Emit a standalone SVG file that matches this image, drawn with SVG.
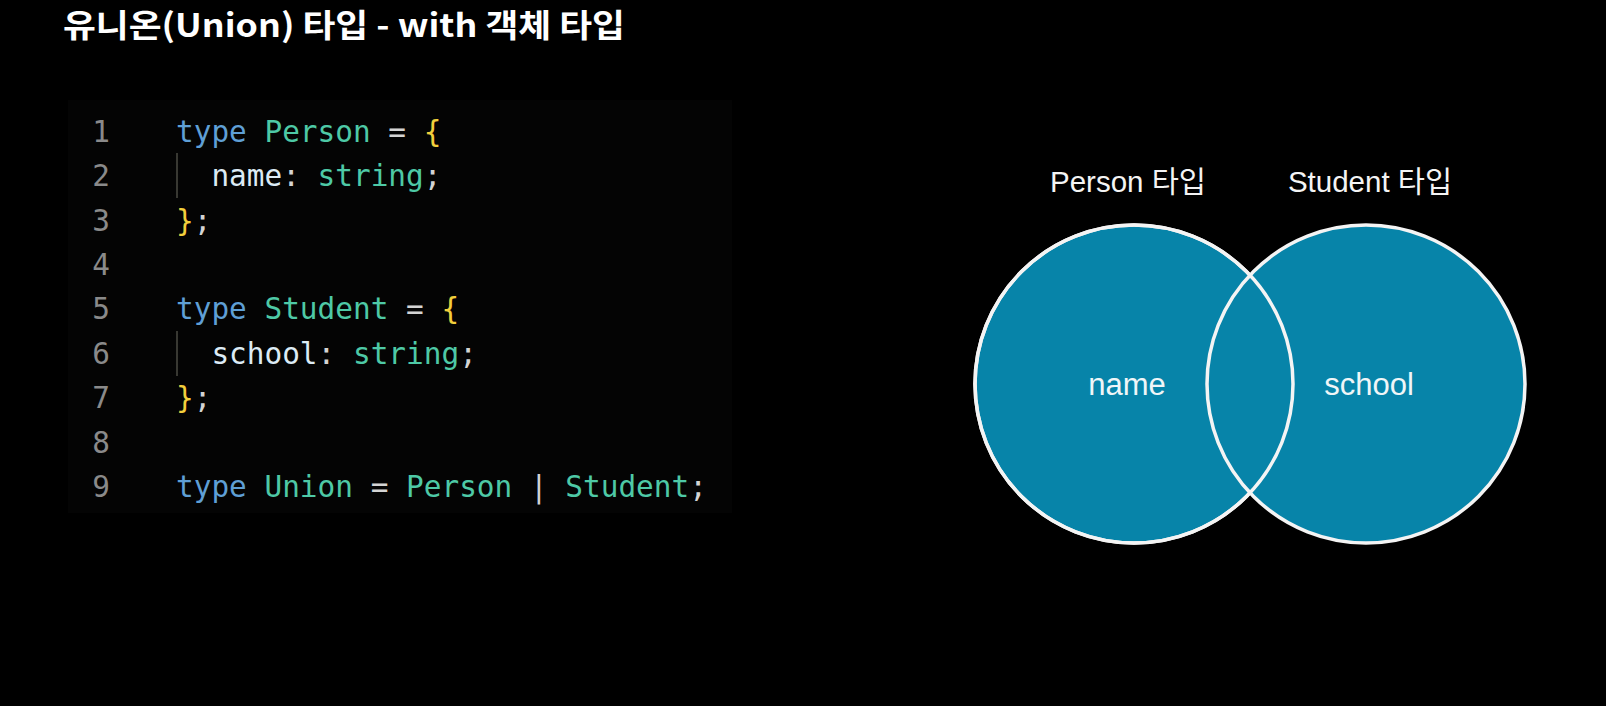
<svg xmlns="http://www.w3.org/2000/svg" width="1606" height="706" viewBox="0 0 1606 706">
  <style>
    .title { font-family: "Noto Sans CJK KR", "Noto Sans", sans-serif; font-weight: 700; font-size: 32px; fill: #ffffff; }
    .code { font-family: "DejaVu Sans Mono", "Liberation Mono", monospace; font-size: 29.4px; }
    .ln { fill: #8a8a8a; text-anchor: middle; }
    .kw { fill: #5f9fd5; }
    .ty { fill: #4ec9a6; }
    .pl { fill: #d4d4d4; }
    .br { fill: #f2cf3c; }
    .pr { fill: #dcebf5; }
    .guide { stroke: #4a4a42; stroke-width: 1.5; }
    .circle { fill: #0784a9; stroke: #f4f4f4; stroke-width: 3.5; }
    .label { font-family: "Liberation Sans", "Noto Sans CJK KR", sans-serif; font-size: 29.5px; fill: #f4f4f4; text-anchor: middle; }
    .inner { font-family: "Liberation Sans", "Noto Sans CJK KR", sans-serif; font-size: 31px; fill: #f0f6f8; text-anchor: middle; }
  </style>
  <rect width="1606" height="706" fill="#000000"/>

  <g id="title">
    <text class="title" x="63" y="37" textLength="562" lengthAdjust="spacingAndGlyphs">유니온(Union) 타입 - with 객체 타입</text>
  </g>

  <g id="code-panel">
    <rect x="68" y="100" width="664" height="413" fill="#040404"/>
    <g class="code">
      <text class="ln" x="101" y="142">1</text>
      <text class="ln" x="101" y="186.4">2</text>
      <text class="ln" x="101" y="230.7">3</text>
      <text class="ln" x="101" y="275">4</text>
      <text class="ln" x="101" y="319.4">5</text>
      <text class="ln" x="101" y="363.8">6</text>
      <text class="ln" x="101" y="408">7</text>
      <text class="ln" x="101" y="452.5">8</text>
      <text class="ln" x="101" y="496.8">9</text>

      <text x="176" y="142" xml:space="preserve"><tspan class="kw">type</tspan><tspan class="pl"> </tspan><tspan class="ty">Person</tspan><tspan class="pl"> = </tspan><tspan class="br">{</tspan></text>
      <text x="211.4" y="186.4" xml:space="preserve"><tspan class="pr">name</tspan><tspan class="pl">: </tspan><tspan class="ty">string</tspan><tspan class="pl">;</tspan></text>
      <text x="176" y="230.7" xml:space="preserve"><tspan class="br">}</tspan><tspan class="pl">;</tspan></text>
      <text x="176" y="319.4" xml:space="preserve"><tspan class="kw">type</tspan><tspan class="pl"> </tspan><tspan class="ty">Student</tspan><tspan class="pl"> = </tspan><tspan class="br">{</tspan></text>
      <text x="211.4" y="363.8" xml:space="preserve"><tspan class="pr">school</tspan><tspan class="pl">: </tspan><tspan class="ty">string</tspan><tspan class="pl">;</tspan></text>
      <text x="176" y="408" xml:space="preserve"><tspan class="br">}</tspan><tspan class="pl">;</tspan></text>
      <text x="176" y="496.8" xml:space="preserve"><tspan class="kw">type</tspan><tspan class="pl"> </tspan><tspan class="ty">Union</tspan><tspan class="pl"> = </tspan><tspan class="ty">Person</tspan><tspan class="pl"> | </tspan><tspan class="ty">Student</tspan><tspan class="pl">;</tspan></text>
    </g>
    <line class="guide" x1="177" y1="153" x2="177" y2="198"/>
    <line class="guide" x1="177" y1="331" x2="177" y2="376"/>
  </g>

  <g id="person-circle">
    <circle class="circle" cx="1134" cy="384" r="159"/>
    <text class="label" x="1128" y="192">Person 타입</text>
  </g>
  <g id="student-circle">
    <circle class="circle" cx="1366" cy="384" r="159"/>
    <text class="label" x="1370" y="192">Student 타입</text>
  </g>
  <g id="overlap-outline">
    <circle cx="1134" cy="384" r="159" fill="none" stroke="#f4f4f4" stroke-width="3.5"/>
  </g>
  <g id="name-label">
    <text class="inner" x="1127" y="395">name</text>
  </g>
  <g id="school-label">
    <text class="inner" x="1369" y="395">school</text>
  </g>
</svg>
